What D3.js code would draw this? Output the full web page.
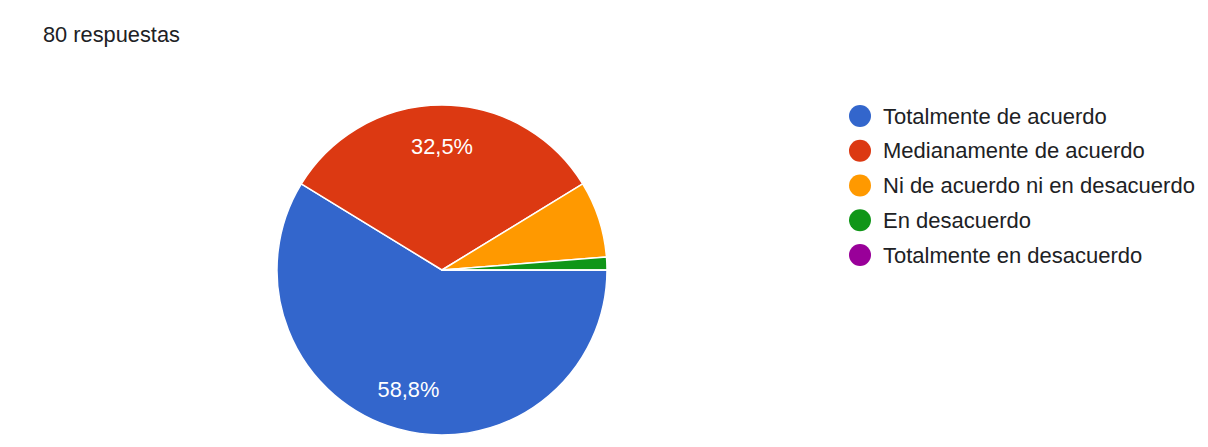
<!DOCTYPE html>
<html><head><meta charset="utf-8">
<script src="https://cdn.jsdelivr.net/npm/d3@7"></script>
<style>body{margin:0;background:#fff;}svg{display:block;font-family:"Liberation Sans",Arial,sans-serif;}</style>
</head><body>
<svg id="chart" width="1208" height="447"></svg>
<script>
const title = "80 respuestas";
const categories = ["Totalmente de acuerdo","Medianamente de acuerdo","Ni de acuerdo ni en desacuerdo","En desacuerdo","Totalmente en desacuerdo"];
const counts = [47, 26, 6, 1, 0];
const colors = ["#3366cc","#dc3912","#ff9900","#109618","#990099"];

const svg = d3.select("#chart");
svg.append("rect").attr("width",1208).attr("height",447).attr("fill","#fff");
svg.append("text").attr("x",43).attr("y",42).attr("font-size","21.8px").attr("fill","#202124").text(title);

const cx = 442, cy = 270, r = 165;
const total = d3.sum(counts);
const pie = d3.pie().sort(null).value(d=>d).startAngle(Math.PI/2).endAngle(Math.PI/2 + 2*Math.PI);
const arcs = pie(counts);
const arc = d3.arc().innerRadius(0).outerRadius(r);
const labelArc = d3.arc().innerRadius(r*0.75).outerRadius(r*0.75);
const g = svg.append("g").attr("transform",`translate(${cx},${cy})`);
g.selectAll("path").data(arcs).join("path")
  .attr("d",arc).attr("fill",(d,i)=>colors[i])
  .attr("stroke","#fff").attr("stroke-width",1.5).attr("stroke-linejoin","round");
const fmt = v => (Math.round(v*1000)/10).toFixed(1).replace(".",",") + "%";
g.selectAll("text.lbl").data(arcs.filter(d=>d.value/total >= 0.1)).join("text")
  .attr("class","lbl")
  .attr("transform",d=>`translate(${labelArc.centroid(d)})`)
  .attr("text-anchor","middle").attr("dominant-baseline","central")
  .attr("font-size","21.8px").attr("fill","#fff")
  .text(d=>fmt(d.value/total));

const leg = svg.append("g");
const ly = d3.scalePoint().domain(categories).range([116,255]);
const items = leg.selectAll("g").data(categories).join("g")
  .attr("transform",d=>`translate(860,${ly(d)})`);
items.append("circle").attr("r",11).attr("fill",(d,i)=>colors[i]);
items.append("text").attr("x",23).attr("dominant-baseline","central")
  .attr("font-size","22px").attr("fill","#202124").text(d=>d);
</script>
</body></html>
